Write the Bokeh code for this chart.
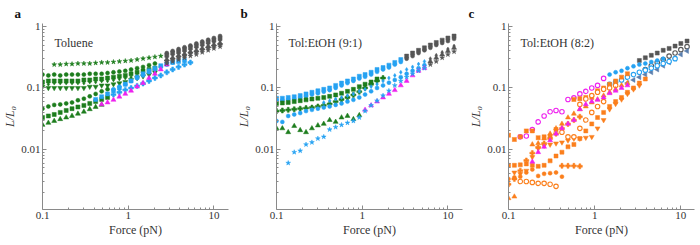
import math
from bokeh.plotting import figure
from bokeh.layouts import row
from bokeh.models import FixedTicker, Range1d, Label
from bokeh.embed import file_html
from bokeh.resources import INLINE

# ---------------- data ----------------
force = [0.100, 0.117, 0.137, 0.161, 0.189, 0.221, 0.259, 0.304, 0.356, 0.417,
         0.490, 0.574, 0.673, 0.789, 0.925, 1.08, 1.27, 1.49, 1.75, 2.05,
         2.40, 2.82, 3.30, 3.87, 4.54, 5.32, 6.24, 7.31, 8.57, 10.0, 11.8, 13.8]

panel_titles = ["Toluene", "Tol:EtOH (9:1)", "Tol:EtOH (8:2)"]
panel_letters = ["a", "b", "c"]
x_ticks = [0.1, 1, 10]
y_ticks = [0.01, 0.1, 1]

# panel a
a_star_green = [0.24, 0.24, 0.245, 0.245, 0.25, 0.25, 0.25, 0.255, 0.26, 0.26, 0.265, 0.27, 0.275, 0.28, 0.29, 0.30, 0.31, 0.32, 0.33]
a_circle_green_hi = [0.165, 0.16, 0.165, 0.16, 0.165, 0.165, 0.165, 0.165, 0.17, 0.17, 0.17, 0.175, 0.18, 0.185, 0.19, 0.20, 0.21, 0.22, 0.235, 0.25]
a_square_green_hi = [0.125, 0.13, 0.13, 0.13, 0.13, 0.13, 0.13, 0.135, 0.135, 0.14, 0.14, 0.145, 0.15, 0.155, 0.16, 0.17, 0.18, 0.19, 0.2, 0.21]
a_diamond_green = [0.115, 0.115, 0.12, 0.12, 0.12, 0.12, 0.12, 0.12, 0.125, 0.125, 0.13, 0.13, 0.135, 0.14, 0.145, 0.15, 0.16, 0.17, 0.18, 0.19]
a_invtri_green = [0.105, 0.1, 0.1, 0.1, 0.1, 0.1, 0.1, 0.1, 0.105, 0.105, 0.11, 0.11, 0.115, 0.12, 0.125, 0.135, 0.145, 0.155, 0.165, 0.18]
a_circle_green_lo = [0.046, 0.05, 0.053, 0.054, 0.056, 0.058, 0.063, 0.067, 0.073, 0.08, 0.088, 0.095]
a_square_green_lo = [0.033, 0.035, 0.037, 0.04, 0.043, 0.046, 0.049, 0.052, 0.056, 0.06, 0.065, 0.07]
a_tri_green_lo = [0.025, 0.027, 0.029, 0.031, 0.033, 0.035, 0.038, 0.041, 0.045, 0.049, 0.053]
a_tri_magenta = [0.054, 0.058, 0.064, 0.072, 0.08, 0.09, 0.105, 0.12, 0.145, 0.17, 0.2, 0.24]
a_square_cyan = [0.065, 0.072, 0.08, 0.09, 0.1, 0.115, 0.13, 0.15, 0.17, 0.19, 0.21, 0.23, 0.245, 0.26, 0.27, 0.28]
a_circle_cyan = [0.095, 0.105, 0.115, 0.13, 0.145, 0.16, 0.18, 0.2, 0.22, 0.24, 0.26]
a_plus_cyan = [0.078, 0.085, 0.093, 0.1, 0.108, 0.118, 0.13, 0.145, 0.16, 0.18, 0.2, 0.22, 0.24, 0.26]
a_grey_circle = [0.37, 0.40, 0.43, 0.46, 0.49, 0.53, 0.57, 0.61, 0.65, 0.70]
a_grey_square = [0.34, 0.37, 0.39, 0.42, 0.45, 0.48, 0.52, 0.56, 0.60, 0.64]
a_grey_diamond = [0.31, 0.34, 0.36, 0.39, 0.42, 0.45, 0.48, 0.52, 0.55, 0.59]
a_grey_tri = [0.29, 0.31, 0.34, 0.36, 0.39, 0.41, 0.44, 0.48, 0.51, 0.54]
a_grey_invtri = [0.27, 0.29, 0.31, 0.33, 0.36, 0.38, 0.41, 0.44, 0.47, 0.50]
a_grey_star = [0.25, 0.27, 0.29, 0.31, 0.33, 0.35, 0.38, 0.41, 0.44, 0.47]

# panel b
b_square_cyan = [0.068, 0.068, 0.07, 0.072, 0.075, 0.08, 0.085, 0.09, 0.095, 0.1, 0.11, 0.12, 0.13, 0.14, 0.155, 0.165, 0.18, 0.2, 0.215, 0.235, 0.26, 0.29]
b_circle_cyan_top = [0.063, 0.063, 0.065, 0.066, 0.069, 0.073, 0.078, 0.082, 0.087, 0.092, 0.1, 0.11, 0.12, 0.13, 0.142, 0.152, 0.165, 0.183, 0.2, 0.215, 0.24, 0.265]
b_grey_square = [0.33, 0.37, 0.41, 0.45, 0.5, 0.55, 0.6, 0.65, 0.7]
b_grey_circle = [0.3, 0.33, 0.37, 0.41, 0.45, 0.5, 0.54, 0.58, 0.63]
b_square_green = [0.056, 0.057, 0.058, 0.06, 0.062, 0.064, 0.066, 0.068, 0.07, 0.073, 0.077, 0.082, 0.088, 0.095, 0.105, 0.115, 0.125, 0.14]
b_plus_green = [0.042, 0.043, 0.044, 0.045, 0.046, 0.047, 0.048, 0.05, 0.052, 0.055, 0.06, 0.065, 0.07, 0.077, 0.087, 0.1, 0.115, 0.13, 0.145]
b_diamond_cyan = [0.058, 0.062, 0.066, 0.07, 0.075, 0.08, 0.088, 0.095, 0.105, 0.115, 0.13, 0.145, 0.16, 0.18, 0.2, 0.22, 0.245, 0.27]
b_grey_diamond = [0.3, 0.34, 0.38, 0.43, 0.48]
b_circle_cyan_mid = [0.029, 0.028, 0.035, 0.037, 0.039, 0.042, 0.044, 0.046, 0.048, 0.05, 0.053, 0.056, 0.06, 0.064, 0.07, 0.078, 0.088, 0.1, 0.11, 0.122, 0.135, 0.15, 0.17, 0.19, 0.21, 0.235]
b_grey_tri = [0.27, 0.31, 0.35, 0.4, 0.45]
b_tri_green = [0.022, 0.022, 0.019, 0.024, 0.0205, 0.019, 0.022, 0.0245, 0.026, 0.03, 0.028, 0.033, 0.035, 0.031, 0.036]
b_tri_magenta = [0.044, 0.052, 0.06, 0.07, 0.08, 0.092, 0.11, 0.13, 0.16, 0.19, 0.21]
b_star_cyan = [0.006, 0.009, 0.0095, 0.012, 0.013, 0.015, 0.016, 0.021, 0.023, 0.025, 0.027, 0.029, 0.033, 0.042, 0.052, 0.062, 0.075, 0.09, 0.11, 0.13, 0.15, 0.17, 0.19, 0.21]
b_grey_star = [0.24, 0.27, 0.31, 0.35, 0.39]

# panel c
c_sqx_orange = [0.017, 0.0145, 0.016, 0.02, 0.02, 0.0155, 0.016, 0.0165, 0.021]
c_sqx_orange2 = [0.065, 0.067, 0.07, 0.07, 0.09, 0.1, 0.115, 0.13, 0.15, 0.17]
c_ocircle_magenta = [0.016, 0.0165, 0.021, 0.028, 0.035, 0.041, 0.043, 0.041, 0.065, 0.069, 0.08, 0.088, 0.1, 0.11, 0.143]
c_circle_cyan = [0.165, 0.18, 0.19, 0.21, 0.225, 0.24, 0.25, 0.265, 0.28, 0.3]
c_ocircle_cyan = [0.115, 0.125, 0.135, 0.15, 0.165, 0.18, 0.195, 0.21, 0.23, 0.25, 0.27, 0.3]
c_ltri_blue = [0.12, 0.135, 0.15, 0.165, 0.18, 0.2, 0.23, 0.26, 0.3, 0.35, 0.4]
c_ocircle_grey = [0.2, 0.23, 0.26, 0.29, 0.33, 0.37, 0.42, 0.47]
c_square_grey = [0.28, 0.31, 0.34, 0.37, 0.41, 0.44, 0.48, 0.53, 0.58]
c_invtri_orange = [0.0042, 0.004, 0.0045, 0.0075, 0.0105, 0.0115, 0.012, 0.0125, 0.013, 0.014, 0.015, 0.015, 0.0155, 0.016, 0.022, 0.03, 0.045, 0.055, 0.065, 0.08, 0.095, 0.11]
c_square_orange = [0.0055, 0.0055, 0.0056, 0.0058, 0.0055, 0.0053, 0.0055, 0.0065, 0.0078, 0.009, 0.011, 0.012, 0.015, 0.02, 0.026, 0.033, 0.04, 0.05, 0.06, 0.07, 0.085, 0.1, 0.12, 0.14]
c_circle_orange = [0.0033, 0.0035, 0.0036, 0.0042, 0.0047, 0.0037, 0.004, 0.0041, 0.0042, 0.0036]
c_plus_orange = [0.0027, 0.0033, 0.0045, 0.0066, 0.0087, 0.0107, 0.0125, 0.015, 0.018, 0.022, 0.026, 0.03, 0.034]
c_plus_orange2 = [0.0054, 0.0054, 0.0054, 0.0053]
c_ocircle_orange_lo = [0.003, 0.003, 0.0029, 0.0028, 0.0028, 0.0027, 0.0025]
c_ocircle_orange_mid = [0.019, 0.016, 0.016, 0.022, 0.03, 0.04, 0.05, 0.06]
c_ocircle_orange_hi = [0.054, 0.066, 0.075, 0.085, 0.095, 0.1, 0.11]
c_tri_orange_lo = [0.0016, 0.0017]
c_tri_orange = [0.012, 0.0125, 0.015, 0.018, 0.022, 0.026, 0.033, 0.038, 0.045, 0.05, 0.058, 0.065, 0.075, 0.085, 0.095, 0.11, 0.12]
c_tri_magenta = [0.0063, 0.009, 0.011, 0.014, 0.018, 0.022, 0.026, 0.03, 0.045, 0.054, 0.06, 0.064, 0.07, 0.082, 0.09, 0.1, 0.11]

# ---------------- style ----------------
GREEN = "#1d7d1d"
CYAN = "#26a2f2"
MAGENTA = "#ee22ee"
GREY = "#555555"
ORANGE = "#fb7f1c"
BLUEGREY = "#5b7fae"
FONT = "Liberation Serif"
TXT = "#333333"
AXC = "#8a8a8a"

# (values, first force index, marker, color, hollow, angle)
series_a = [
    (a_star_green, 2, "star", GREEN, False, 0),
    (a_circle_green_hi, 0, "circle", GREEN, False, 0),
    (a_square_green_hi, 0, "square", GREEN, False, 0),
    (a_diamond_green, 0, "diamond", GREEN, False, 0),
    (a_invtri_green, 0, "inverted_triangle", GREEN, False, 0),
    (a_circle_green_lo, 0, "circle", GREEN, False, 0),
    (a_square_green_lo, 0, "square", GREEN, False, 0),
    (a_tri_green_lo, 0, "triangle", GREEN, False, 0),
    (a_square_cyan, 9, "square", CYAN, False, 0),
    (a_circle_cyan, 12, "circle", CYAN, False, 0),
    (a_plus_cyan, 12, "plus", CYAN, False, 0),
    (a_tri_magenta, 10, "triangle", MAGENTA, False, 0),
    (a_grey_circle, 21, "circle", GREY, False, 0),
    (a_grey_square, 21, "square", GREY, False, 0),
    (a_grey_diamond, 21, "diamond", GREY, False, 0),
    (a_grey_tri, 21, "triangle", GREY, False, 0),
    (a_grey_invtri, 21, "inverted_triangle", GREY, False, 0),
    (a_grey_star, 21, "star", GREY, False, 0),
]
series_b = [
    (b_square_cyan, 0, "square", CYAN, False, 0),
    (b_circle_cyan_top, 0, "circle", CYAN, False, 0),
    (b_grey_square, 22, "square", GREY, False, 0),
    (b_grey_circle, 22, "circle", GREY, False, 0),
    (b_square_green, 0, "square", GREEN, False, 0),
    (b_plus_green, 0, "plus", GREEN, False, 0),
    (b_diamond_cyan, 8, "diamond", CYAN, False, 0),
    (b_grey_diamond, 26, "diamond", GREY, False, 0),
    (b_circle_cyan_mid, 0, "circle", CYAN, False, 0),
    (b_grey_tri, 26, "triangle", GREY, False, 0),
    (b_tri_green, 0, "triangle", GREEN, False, 0),
    (b_tri_magenta, 15, "triangle", MAGENTA, False, 0),
    (b_star_cyan, 2, "star", CYAN, False, 0),
    (b_grey_star, 26, "star", GREY, False, 0),
]
series_c = [
    (c_square_grey, 22, "square", GREY, False, 0),
    (c_ocircle_grey, 23, "circle", GREY, True, 0),
    (c_ltri_blue, 20, "triangle", BLUEGREY, False, math.pi / 2),
    (c_circle_cyan, 17, "circle", CYAN, False, 0),
    (c_ocircle_cyan, 17, "circle", CYAN, True, 0),
    (c_ocircle_magenta, 2, "circle", MAGENTA, True, 0),
    (c_sqx_orange, 0, "square_x", ORANGE, False, 0),
    (c_sqx_orange2, 11, "square_x", ORANGE, False, 0),
    (c_invtri_orange, 1, "inverted_triangle", ORANGE, False, 0),
    (c_square_orange, 0, "square", ORANGE, False, 0),
    (c_circle_orange, 0, "circle", ORANGE, False, 0),
    (c_plus_orange, 0, "plus", ORANGE, False, 0),
    (c_plus_orange2, 9, "plus", ORANGE, False, 0),
    (c_ocircle_orange_lo, 2, "circle", ORANGE, True, 0),
    (c_ocircle_orange_mid, 9, "circle", ORANGE, True, 0),
    (c_ocircle_orange_hi, 12, "circle", ORANGE, True, 0),
    (c_tri_orange_lo, 0, "triangle", ORANGE, False, 0),
    (c_tri_orange, 4, "triangle", ORANGE, False, 0),
    (c_tri_magenta, 4, "triangle", MAGENTA, False, 0),
]

FW, FH = 186, 186
Y0, Y1 = 0.00105, 1.12
y_minor = [m * 10 ** e for e in (-3, -2, -1) for m in range(2, 10)]
x_minor = [m * 10 ** e for e in (-1, 0, 1) for m in range(2, 10)]


def make_panel(idx, series, x_end, b_left, b_right):
    p = figure(x_axis_type="log", y_axis_type="log",
               x_range=Range1d(0.1, x_end), y_range=Range1d(Y0, Y1),
               frame_width=FW, frame_height=FH,
               min_border_left=b_left, min_border_right=b_right,
               min_border_top=0, min_border_bottom=27,
               output_backend="svg", toolbar_location=None)
    p.outline_line_color = None
    p.xgrid.visible = False
    p.ygrid.visible = False

    p.title.text = panel_letters[idx]
    p.title.align = "left"
    p.title.offset = -b_left
    p.title.standoff = 6
    p.title.text_font = FONT
    p.title.text_font_size = "13px"
    p.title.text_font_style = "bold"
    p.title.text_color = "#111111"

    p.xaxis.ticker = FixedTicker(ticks=x_ticks, minor_ticks=x_minor)
    p.yaxis.ticker = FixedTicker(ticks=y_ticks, minor_ticks=y_minor)
    p.xaxis.major_label_overrides = {0.1: "0.1", 1: "1", 10: "10"}
    p.yaxis.major_label_overrides = {0.01: "0.01", 0.1: "0.1", 1: "1"}
    for ax in (p.xaxis[0], p.yaxis[0]):
        ax.axis_line_color = AXC
        ax.major_tick_line_color = AXC
        ax.minor_tick_line_color = AXC
        ax.major_tick_in = 4
        ax.major_tick_out = 0
        ax.minor_tick_in = 2
        ax.minor_tick_out = 0
        ax.major_label_text_font = FONT
        ax.major_label_text_font_size = "11px"
        ax.major_label_text_color = TXT
        ax.major_label_standoff = 2
        ax.axis_label_text_font = FONT
        ax.axis_label_text_font_size = "12px"
        ax.axis_label_text_color = TXT
        ax.axis_label_standoff = 1
    p.xaxis.axis_label = "Force (pN)"
    p.xaxis.axis_label_text_font_style = "normal"
    p.yaxis.axis_label = "L/L₀"
    p.yaxis.axis_label_text_font_style = "italic"

    for vals, k0, marker, color, hollow, ang in series:
        xs = force[k0:k0 + len(vals)]
        if hollow:
            p.scatter(xs, vals, marker=marker, size=4.5, fill_color="white",
                      line_color=color, line_width=1.1, angle=ang)
        else:
            sz = 5 if marker in ("star", "plus", "triangle", "inverted_triangle") else 4
            p.scatter(xs, vals, marker=marker, size=sz, fill_color=color,
                      line_color=color, line_width=0.5, angle=ang)

    ppd_x = FW / math.log10(x_end / 0.1)
    ppd_y = FH / math.log10(Y1 / Y0)
    p.add_layout(Label(x=0.1 * 10 ** (12 / ppd_x), y=Y1 * 10 ** (-19 / ppd_y),
                       text=panel_titles[idx],
                       text_font=FONT, text_font_size="12px", text_color=TXT,
                       text_baseline="middle", text_align="left"))
    return p


pa = make_panel(0, series_a, 14.8, 28, 6)
pb = make_panel(1, series_b, 14.8, 36, 4)
pc = make_panel(2, series_c, 14.4, 40, 3)

layout = row(pa, pb, pc, spacing=0)
open("out.html", "w").write(file_html(layout, INLINE))
